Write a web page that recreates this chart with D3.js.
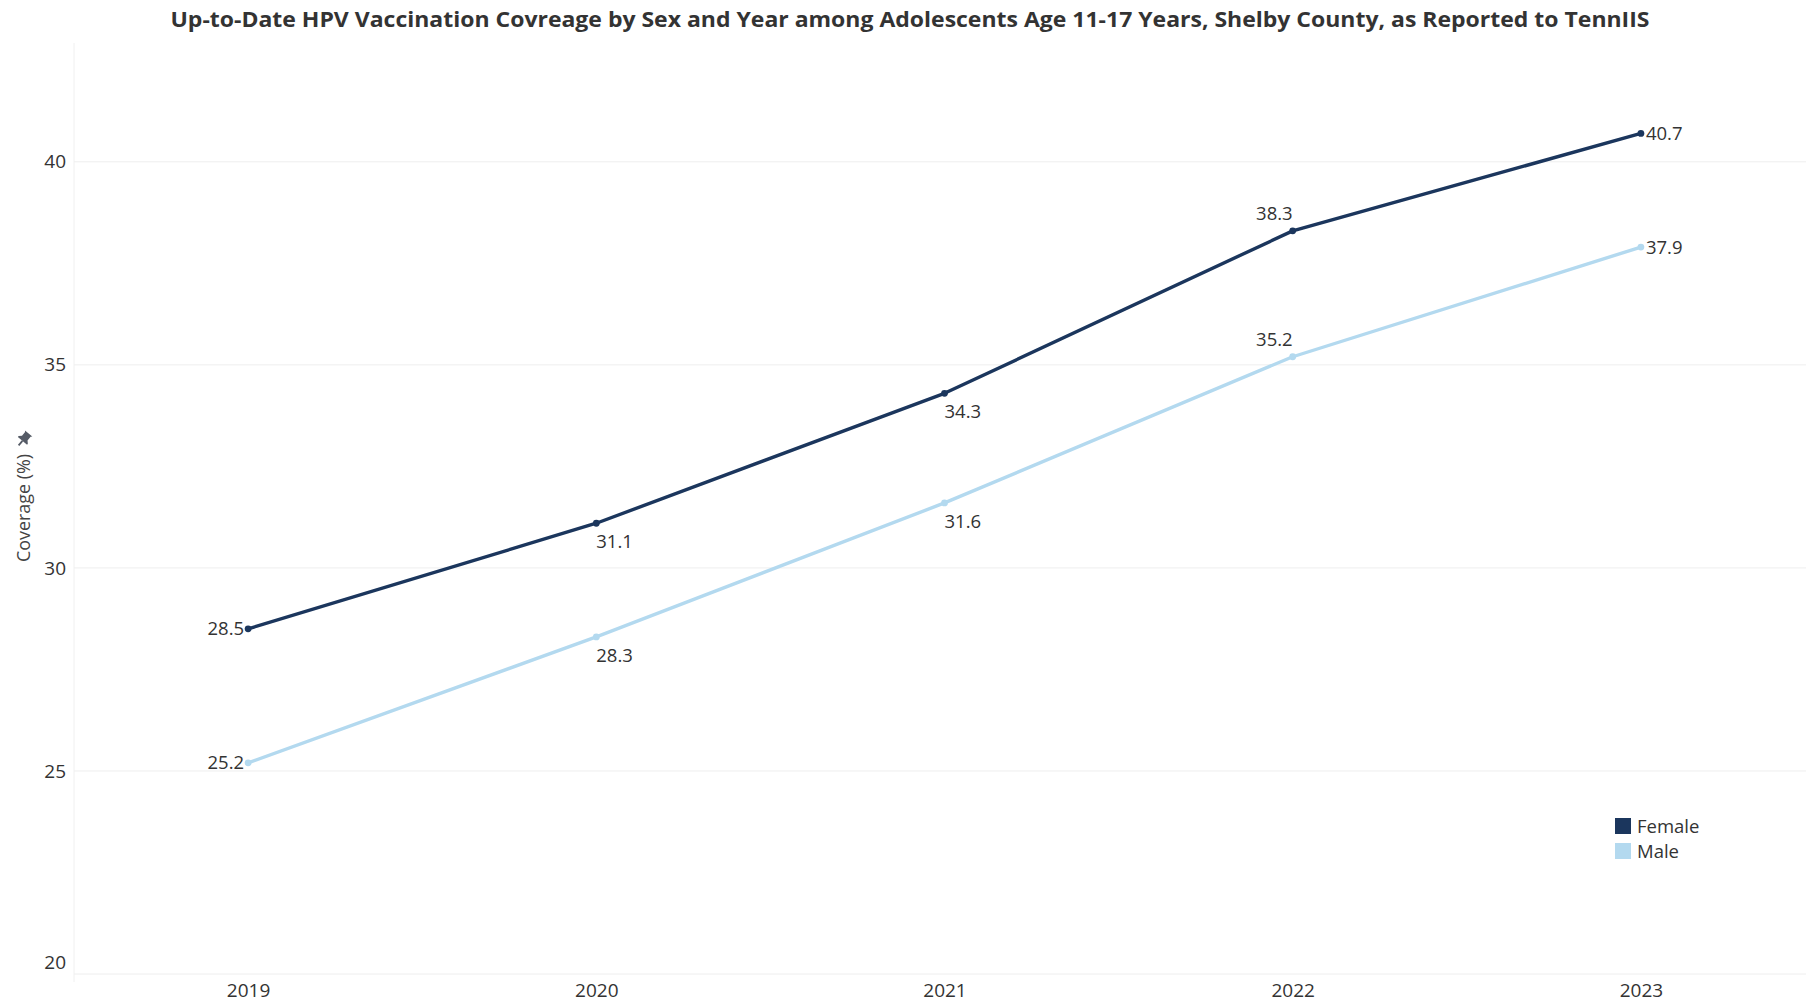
<!DOCTYPE html>
<html>
<head>
<meta charset="utf-8">
<script src="https://cdn.jsdelivr.net/npm/d3@7"></script>
<style>
  html, body { margin: 0; padding: 0; background: #ffffff; }
  svg { display: block; }
  text { font-family: "Open Sans", "Noto Sans", sans-serif; }
</style>
</head>
<body>
<svg id="chart" width="1806" height="1003"></svg>
<script>
const titleText = "Up-to-Date HPV Vaccination Covreage by Sex and Year among Adolescents Age 11-17 Years, Shelby County, as Reported to TennIIS";
const yAxisTitle = "Coverage (%)";
const years = ["2019", "2020", "2021", "2022", "2023"];
const seriesNames = ["Female", "Male"];
const femaleValues = [28.5, 31.1, 34.3, 38.3, 40.7];
const maleValues = [25.2, 28.3, 31.6, 35.2, 37.9];
const yTicks = [20, 25, 30, 35, 40];
const seriesColors = ["#1b365d", "#b3d9ef"];

const svg = d3.select("#chart");
const W = 1806, H = 1003;
const plotLeft = 74, plotRight = 1815, plotTop = 40, plotBottom = 974;

const x = d3.scalePoint().domain(years).range([plotLeft, plotRight]).padding(0.5);
const y = d3.scaleLinear().domain([20, 43]).range([plotBottom, plotTop]);

// Title
svg.append("text")
  .attr("x", 910).attr("y", 27)
  .attr("text-anchor", "middle")
  .attr("font-size", 21)
  .attr("font-weight", "bold")
  .attr("fill", "#333333")
  .attr("textLength", 1479)
  .attr("lengthAdjust", "spacingAndGlyphs")
  .text(titleText);

// Gridlines
const grid = svg.append("g");
grid.selectAll("line").data(yTicks).join("line")
  .attr("x1", plotLeft).attr("x2", W)
  .attr("y1", d => y(d)).attr("y2", d => y(d))
  .attr("stroke", "#eeeeee").attr("stroke-width", 1);
svg.append("line")
  .attr("x1", plotLeft).attr("x2", plotLeft)
  .attr("y1", 43).attr("y2", plotBottom + 8)
  .attr("stroke", "#f0f0f0").attr("stroke-width", 1);

// Y axis
const yAxis = d3.axisLeft(y).tickValues(yTicks).tickSize(0).tickPadding(0).tickFormat(d3.format("d"));
const yg = svg.append("g").attr("transform", `translate(${plotLeft - 8},0)`).call(yAxis);
yg.select(".domain").remove();
yg.selectAll("text")
  .attr("font-size", 19)
  .attr("fill", "#333333")
  .attr("font-family", "'Open Sans', sans-serif")
  .attr("dy", (d, i) => i === 0 ? "-0.3em" : "0.32em");

// X axis
const xAxis = d3.axisBottom(x).tickSize(0).tickPadding(0);
const xg = svg.append("g").attr("transform", `translate(0,${plotBottom + 7})`).call(xAxis);
xg.select(".domain").remove();
xg.selectAll("text")
  .attr("font-size", 19)
  .attr("fill", "#333333")
  .attr("font-family", "'Open Sans', sans-serif")
  .attr("dy", "0.85em");

// Y axis title with pin icon
svg.append("text")
  .attr("transform", `translate(30,508) rotate(-90)`)
  .attr("text-anchor", "middle")
  .attr("font-size", 19)
  .attr("fill", "#444444")
  .attr("textLength", 108)
  .attr("lengthAdjust", "spacingAndGlyphs")
  .text(yAxisTitle);
const pin = svg.append("g").attr("transform", "translate(24,439) rotate(40) scale(1.2)");
pin.append("path")
  .attr("d", "M-4,-6 L4,-6 L3,-5 L3,-1 L5,1 L5,2 L-5,2 L-5,1 L-3,-1 L-3,-5 Z")
  .attr("fill", "#555b66");
pin.append("line").attr("x1", 0).attr("x2", 0).attr("y1", 2).attr("y2", 7)
  .attr("stroke", "#555b66").attr("stroke-width", 1.5);

// Lines
const seriesData = [femaleValues, maleValues];
const line = d3.line().x((d, i) => x(years[i])).y(d => y(d));

[1, 0].forEach(si => {
  const vals = seriesData[si];
  const g = svg.append("g");
  g.append("path")
    .datum(vals)
    .attr("d", line)
    .attr("fill", "none")
    .attr("stroke", seriesColors[si])
    .attr("stroke-width", 3.4)
    .attr("stroke-linejoin", "round");
  g.selectAll("circle").data(vals).join("circle")
    .attr("cx", (d, i) => x(years[i]))
    .attr("cy", d => y(d))
    .attr("r", 3.4)
    .attr("fill", seriesColors[si]);
  g.selectAll("text").data(vals).join("text")
    .attr("font-size", 18.5)
    .attr("fill", "#333333")
    .attr("x", (d, i) => {
      const px = x(years[i]);
      if (i === 0) return px - 4;
      if (i === vals.length - 1) return px + 5;
      return px;
    })
    .attr("y", (d, i) => {
      const py = y(d);
      if (i === 0 || i === vals.length - 1) return py + 6.5;
      if (i === 3) return py - 11;
      return py + 25;
    })
    .attr("text-anchor", (d, i) => (i === 0 || i === 3) ? "end" : "start")
    .text(d => d3.format(".1f")(d));
});

// Legend
const legend = svg.append("g").attr("transform", "translate(1615,818)");
seriesNames.forEach((name, i) => {
  const row = legend.append("g").attr("transform", `translate(0,${i * 25})`);
  row.append("rect").attr("width", 16).attr("height", 16).attr("fill", seriesColors[i]);
  row.append("text").attr("x", 22).attr("y", 14.5)
    .attr("font-size", 18.5).attr("fill", "#333333").text(name);
});
</script>
</body>
</html>
